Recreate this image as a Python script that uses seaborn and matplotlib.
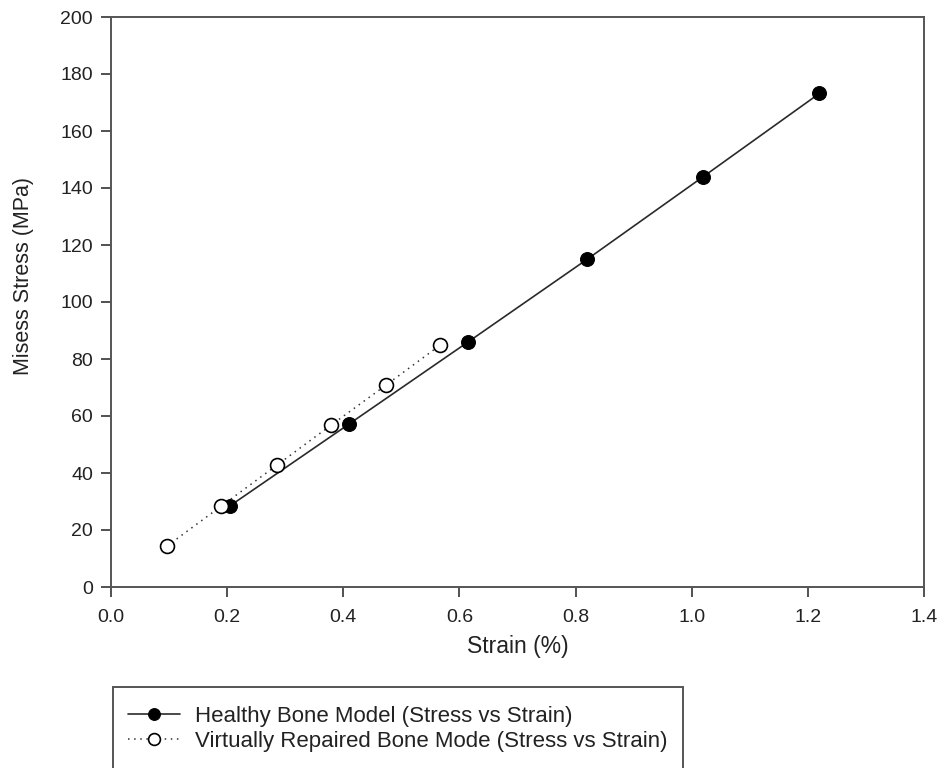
import matplotlib
matplotlib.use("Agg")
import matplotlib.pyplot as plt
import seaborn as sns
import pandas as pd
from matplotlib.patches import Rectangle

healthy_strain = [0.205, 0.41, 0.615, 0.82, 1.02, 1.22]
healthy_stress = [28.5, 57.2, 86.0, 115.0, 144.0, 173.2]
repaired_strain = [0.096, 0.19, 0.286, 0.379, 0.474, 0.567]
repaired_stress = [14.3, 28.4, 42.8, 56.8, 70.9, 84.9]
healthy_label = "Healthy Bone Model (Stress vs Strain)"
repaired_label = "Virtually Repaired Bone Mode (Stress vs Strain)"
x_ticks = [0.0, 0.2, 0.4, 0.6, 0.8, 1.0, 1.2, 1.4]
y_ticks = [0, 20, 40, 60, 80, 100, 120, 140, 160, 180, 200]

sns.set_theme(style="white")
plt.rcParams['font.family'] = ['Liberation Sans', 'DejaVu Sans']

W, H = 943, 768
fig = plt.figure(figsize=(W / 100, H / 100), dpi=100)
ax = fig.add_axes([111 / W, 1 - 587 / H, (924 - 111) / W, (587 - 17) / H])

df_h = pd.DataFrame({"strain": healthy_strain, "stress": healthy_stress})
df_r = pd.DataFrame({"strain": repaired_strain, "stress": repaired_stress})

sns.lineplot(data=df_h, x="strain", y="stress", ax=ax, color="#2a2a2a", lw=1.2,
             marker="o", markersize=10, markerfacecolor="black", markeredgecolor="black",
             label=healthy_label, sort=False, zorder=3)
sns.lineplot(data=df_r, x="strain", y="stress", ax=ax, color="#333333", lw=1.1,
             linestyle=(0, (1, 3)), marker="o", markersize=10, markerfacecolor="white",
             markeredgecolor="black", markeredgewidth=1.2, label=repaired_label, sort=False, zorder=4)

ax.set_xlim(0, 1.4)
ax.set_ylim(0, 200)
ax.set_xticks(x_ticks)
ax.set_xticklabels([f"{v:.1f}" for v in x_ticks])
ax.set_yticks(y_ticks)
ax.set_yticklabels([str(v) for v in y_ticks])
ax.tick_params(axis="both", direction="out", length=7, width=1.2, color="#333333",
               labelsize=14, labelcolor="#222222", bottom=True, left=True, top=False, right=False)
ax.tick_params(axis="x", pad=8.5)
ax.tick_params(axis="y", pad=6)
for s in ax.spines.values():
    s.set_color("#555555")
    s.set_linewidth(1.4)
ax.set_xlabel("Strain (%)", fontsize=16.5, color="#222222", labelpad=7)
ax.set_ylabel("Misess Stress (MPa)", fontsize=15.5, color="#222222")
ax.yaxis.set_label_coords((34 - 111) / 813, (587 - 276) / 570)

ax.get_legend().remove()
handles, labels = ax.get_legend_handles_labels()

fig.patches.append(Rectangle((113 / W, 1 - 800 / H), (683 - 113) / W, (800 - 687) / H,
                             transform=fig.transFigure, facecolor="white",
                             edgecolor="#555555", linewidth=1.4, zorder=1))
leg = fig.legend(handles, labels, loc="upper left", bbox_to_anchor=(128 / W, 1 - 706 / H),
                 frameon=False, fontsize=16, handlelength=2.35, handletextpad=0.65,
                 labelspacing=0.18, borderpad=0, borderaxespad=0, markerscale=0.85)
for t in leg.get_texts():
    t.set_color("#222222")

fig.savefig("out.png", dpi=100)
